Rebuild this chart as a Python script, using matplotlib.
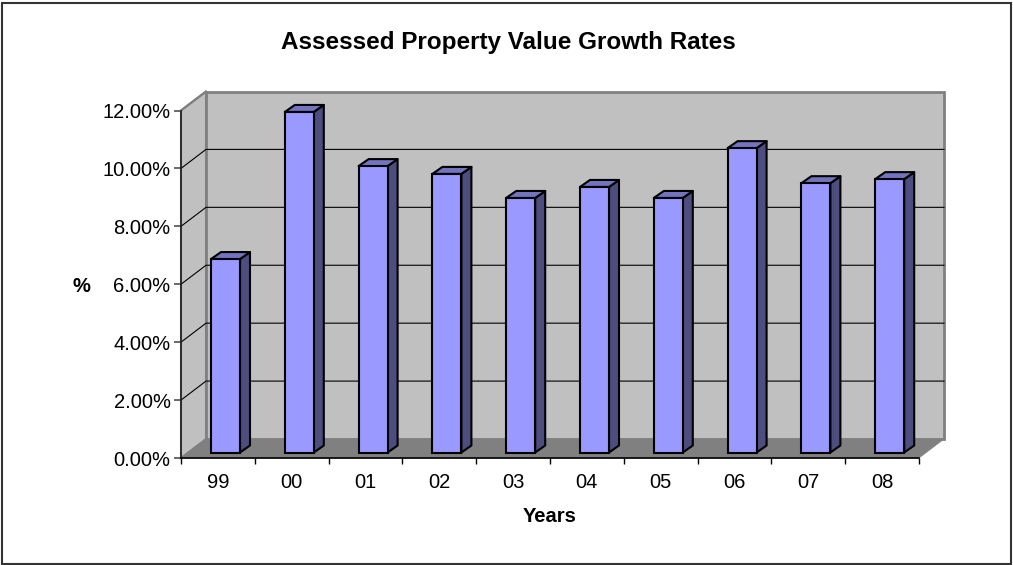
import matplotlib
matplotlib.use("Agg")
import matplotlib.pyplot as plt
from matplotlib.patches import Polygon, Rectangle

W, H = 1013, 565

years = ["99", "00", "01", "02", "03", "04", "05", "06", "07", "08"]
growth = [6.68, 11.76, 9.89, 9.62, 8.79, 9.17, 8.79, 10.51, 9.30, 9.44]
y_ticks = [0, 2, 4, 6, 8, 10, 12]
y_labels = ["0.00%", "2.00%", "4.00%", "6.00%", "8.00%", "10.00%", "12.00%"]

plt.rcParams["font.family"] = ["Liberation Sans", "DejaVu Sans"]

fig = plt.figure(figsize=(W / 100, H / 100), dpi=100)
fig.patch.set_facecolor("white")
fig.add_artist(Rectangle((2 / W, 1 - 564 / H), 1009 / W, 561 / H, transform=fig.transFigure,
                         fill=False, edgecolor="#333333", linewidth=1.5))

# front plane of the fake 3d box
left, right, top, bottom = 181, 919, 110.5, 458
ax = fig.add_axes([left / W, 1 - bottom / H, (right - left) / W, (bottom - top) / H])
ax.set_xlim(0, len(years))
ax.set_ylim(0, 12)
ax.patch.set_visible(False)

# pixels to data units
ux = len(years) / (right - left)
uy = 12 / (bottom - top)
dx, dy = 25 * ux, 19 * uy
nx = len(years)


def poly(pts, **kw):
    ax.add_patch(Polygon(pts, closed=True, clip_on=False, **kw))


# walls and floor
poly([(0, 0), (dx, dy), (dx, 12 + dy), (0, 12)], facecolor="#c0c0c0", edgecolor="#808080", linewidth=1.5, zorder=1)
poly([(dx, dy), (nx + dx, dy), (nx + dx, 12 + dy), (dx, 12 + dy)], facecolor="#c0c0c0", edgecolor="#808080",
     linewidth=2, zorder=1)
poly([(0, 0), (nx, 0), (nx + dx, dy), (dx, dy)], facecolor="#808080", edgecolor="#808080", linewidth=0.5, zorder=1.5)

# gridlines go along side wall and back wall
for t in y_ticks[1:-1]:
    ax.plot([0, dx, nx + dx], [t, t + dy, t + dy], color="black", linewidth=0.8, clip_on=False, zorder=2)
ax.plot([0, dx], [12, 12 + dy], color="#808080", linewidth=1.5, clip_on=False, zorder=2)

# bars
bar_w = 29 * ux
off_x, off_y = 7.6 * ux, 5.5 * uy
sx, sy = 10 * ux, 7 * uy
xs = [i + 0.5 + off_x for i in range(nx)]
ax.bar(xs, growth, bottom=off_y, width=bar_w, color="#9999ff", edgecolor="black", linewidth=1.5, zorder=4,
       clip_on=False)
for x, v in zip(xs, growth):
    l, r = x - bar_w / 2, x + bar_w / 2
    b, t = off_y, off_y + v
    poly([(r, b), (r + sx, b + sy), (r + sx, t + sy), (r, t)], facecolor="#4d4d80", edgecolor="black",
         linewidth=1.5, joinstyle="round", zorder=3.5)
    poly([(l, t), (l + sx, t + sy), (r + sx, t + sy), (r, t)], facecolor="#7373bf", edgecolor="black",
         linewidth=1.5, joinstyle="round", zorder=3.5)

# axes
for s in ["top", "right"]:
    ax.spines[s].set_visible(False)
for s in ["left", "bottom"]:
    ax.spines[s].set_linewidth(1.2)
    ax.spines[s].set_color("black")
    ax.spines[s].set_zorder(5)
ax.spines["left"].set_color("#202020")

ax.set_yticks(y_ticks)
ax.set_yticklabels(y_labels, fontsize=14.5)
ax.tick_params(axis="y", length=5, width=1.2, color="#505050", pad=2.5)
ax.set_xticks(range(nx + 1))
ax.set_xticklabels([""] * (nx + 1))
ax.tick_params(axis="x", length=4.5, width=1, color="black")
for i, lab in enumerate(years):
    ax.annotate(lab, (i + 0.5, 0), xytext=(0, -17.5), textcoords="offset points", ha="center", va="center",
                fontsize=14.5, annotation_clip=False)

fig.text(508 / W, 1 - 42 / H, "Assessed Property Value Growth Rates", ha="center", va="center",
         fontsize=17.5, fontweight="bold")
fig.text(550 / W, 1 - 516.5 / H, "Years", ha="center", va="center", fontsize=14.5, fontweight="bold")
fig.text(81 / W, 1 - 286 / H, "%", ha="center", va="center", fontsize=14.5, fontweight="bold")

fig.savefig("out.png", dpi=100)
